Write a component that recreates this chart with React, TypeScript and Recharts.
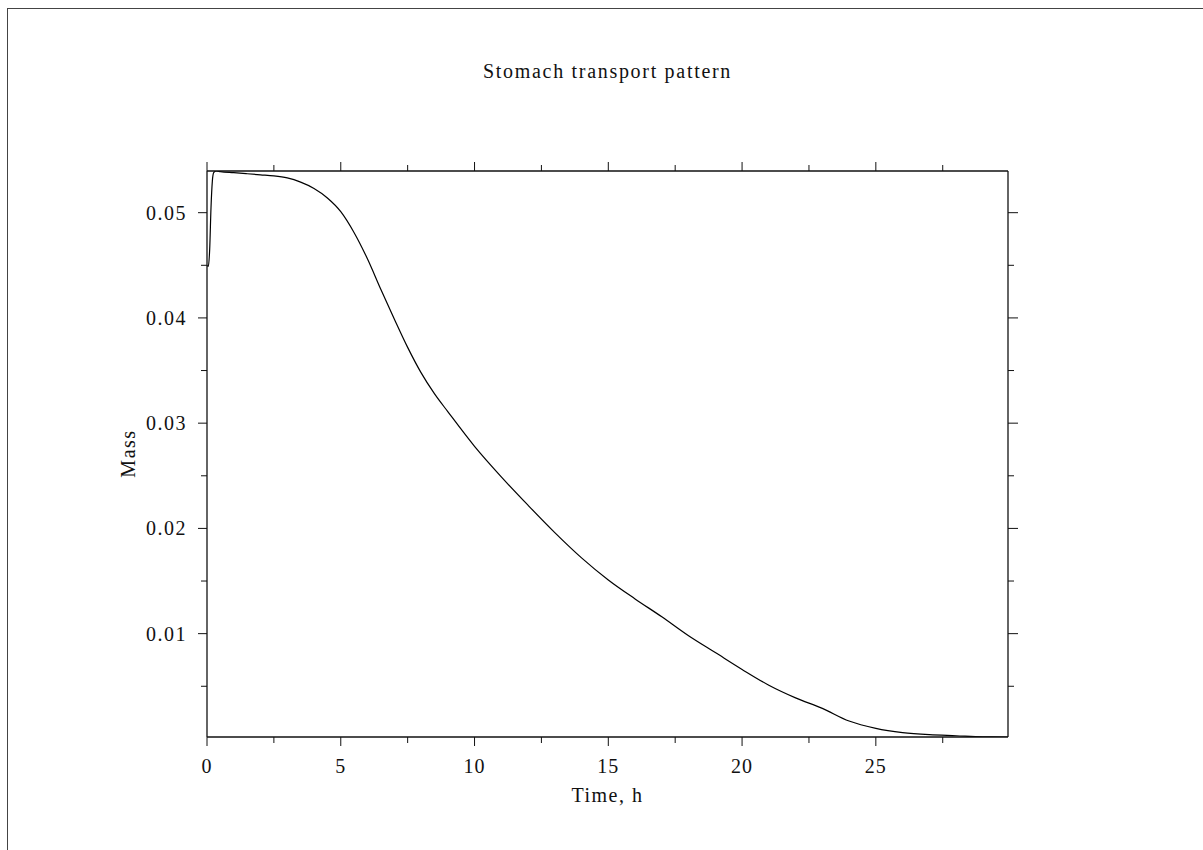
import React from "react";
import { LineChart, Line, XAxis, YAxis } from "recharts";

// time in hours
const time = [
  0, 0.05, 0.1, 0.15, 0.2, 0.25, 0.35, 0.5, 1, 1.5, 2, 2.5, 3, 3.5, 4, 4.5, 5,
  5.5, 6, 6.5, 7, 7.5, 8, 8.5, 9, 10, 11, 12, 13, 14, 15, 16, 17, 18, 19, 20,
  21, 22, 23, 24, 25, 26, 27, 28, 29, 29.94
];

// stomach mass
const mass = [
  0.045, 0.0449, 0.0465, 0.0505, 0.053, 0.0538, 0.05396, 0.0539, 0.0538,
  0.0537, 0.0536, 0.0535, 0.0533, 0.0529, 0.0523, 0.0514, 0.0501, 0.0481,
  0.0456, 0.0427, 0.0399, 0.0372, 0.0348, 0.0328, 0.0311, 0.0278, 0.0249,
  0.0222, 0.0196, 0.0172, 0.0151, 0.0133, 0.0116, 0.0098, 0.0082, 0.0066,
  0.0051, 0.0039, 0.0029, 0.0017, 0.001, 0.0006, 0.0004, 0.0003, 0.0002,
  0.00018
];

const xMajor = [0, 5, 10, 15, 20, 25];
const xMinor = [2.5, 7.5, 12.5, 17.5, 22.5, 27.5];
const yMajor = [0.01, 0.02, 0.03, 0.04, 0.05];
const yMinor = [0.005, 0.015, 0.025, 0.035, 0.045];

const xTicks = [...xMajor, ...xMinor].sort((a, b) => a - b);
const yTicks = [...yMajor, ...yMinor].sort((a, b) => a - b);

const data = time.map((t, i) => ({ t, mass: mass[i] }));

const FONT = "'Liberation Serif', 'Times New Roman', serif";
const INK = "#111";

const BottomTick = (props: any) => {
  const { x, y, payload } = props;
  const major = xMajor.includes(payload.value);
  return (
    <g>
      <line x1={x} x2={x} y1={y} y2={y + (major ? 9 : 6)} stroke={INK} />
      {major && (
        <text
          x={x}
          y={y + 29}
          textAnchor="middle"
          dominantBaseline="central"
          fontFamily={FONT}
          fontSize={20}
          letterSpacing={1}
          fill="#111"
        >
          {payload.value}
        </text>
      )}
    </g>
  );
};

const TopTick = (props: any) => {
  const { x, y, payload } = props;
  const major = xMajor.includes(payload.value);
  return <line x1={x} x2={x} y1={y} y2={y - (major ? 9 : 6)} stroke={INK} />;
};

const LeftTick = (props: any) => {
  const { x, y, payload } = props;
  const major = yMajor.includes(payload.value);
  return (
    <g>
      <line x1={x} x2={x - (major ? 9 : 6)} y1={y} y2={y} stroke={INK} />
      {major && (
        <text
          x={x - 20}
          y={y}
          textAnchor="end"
          dominantBaseline="central"
          fontFamily={FONT}
          fontSize={20}
          letterSpacing={1.5}
          fill="#111"
        >
          {payload.value.toFixed(2)}
        </text>
      )}
    </g>
  );
};

const RightTick = (props: any) => {
  const { x, y, payload } = props;
  const major = yMajor.includes(payload.value);
  return <line x1={x} x2={x + (major ? 10 : 6)} y1={y} y2={y} stroke={INK} />;
};

const X_DOMAIN: [number, number] = [0, 29.94];
const Y_DOMAIN: [number, number] = [0.00018, 0.05396];

export default function App() {
  return (
    <div
      style={{
        position: "absolute",
        left: 0,
        top: 0,
        width: 1203,
        height: 850,
        overflow: "hidden",
        background: "#fff"
      }}
    >
      <LineChart
        width={1203}
        height={850}
        data={data}
        margin={{ top: 151, right: 175, bottom: 53, left: 107 }}
      >
        <XAxis
          xAxisId="bottom"
          dataKey="t"
          type="number"
          domain={X_DOMAIN}
          allowDataOverflow
          ticks={xTicks}
          interval={0}
          tickLine={false}
          tickSize={0}
          tickMargin={0}
          tick={<BottomTick />}
          height={60}
          axisLine={{ stroke: INK, strokeWidth: 1.3 }}
        />
        <XAxis
          xAxisId="top"
          orientation="top"
          dataKey="t"
          type="number"
          domain={X_DOMAIN}
          allowDataOverflow
          ticks={xTicks}
          interval={0}
          tickLine={false}
          tickSize={0}
          tickMargin={0}
          tick={<TopTick />}
          height={20}
          axisLine={{ stroke: INK, strokeWidth: 1.3 }}
        />
        <YAxis
          yAxisId="left"
          type="number"
          domain={Y_DOMAIN}
          allowDataOverflow
          ticks={yTicks}
          interval={0}
          tickLine={false}
          tickSize={0}
          tickMargin={0}
          tick={<LeftTick />}
          width={100}
          axisLine={{ stroke: INK, strokeWidth: 1.3 }}
        />
        <YAxis
          yAxisId="right"
          orientation="right"
          type="number"
          domain={Y_DOMAIN}
          allowDataOverflow
          ticks={yTicks}
          interval={0}
          tickLine={false}
          tickSize={0}
          tickMargin={0}
          tick={<RightTick />}
          width={20}
          axisLine={{ stroke: INK, strokeWidth: 1.3 }}
        />
        <Line
          xAxisId="bottom"
          yAxisId="left"
          dataKey="mass"
          type="monotone"
          stroke="#000"
          strokeWidth={1.2}
          dot={false}
          activeDot={false}
          isAnimationActive={false}
        />
      </LineChart>
      <svg
        width={1203}
        height={850}
        style={{ position: "absolute", left: 0, top: 0, pointerEvents: "none" }}
      >
        <rect
          x={7.5}
          y={8.5}
          width={1300}
          height={1000}
          fill="none"
          stroke="#444"
        />
        <text
          x={607.5}
          y={71}
          textAnchor="middle"
          dominantBaseline="central"
          fontFamily={FONT}
          fontSize={20}
          letterSpacing={1.7}
          fill="#111"
        >
          Stomach transport pattern
        </text>
        <text
          x={607.5}
          y={795}
          textAnchor="middle"
          dominantBaseline="central"
          fontFamily={FONT}
          fontSize={20}
          letterSpacing={1.5}
          fill="#111"
        >
          Time, h
        </text>
        <text
          x={127.5}
          y={453.5}
          textAnchor="middle"
          dominantBaseline="central"
          fontFamily={FONT}
          fontSize={20}
          letterSpacing={1.5}
          fill="#111"
          transform="rotate(-90 127.5 453.5)"
        >
          Mass
        </text>
      </svg>
    </div>
  );
}
